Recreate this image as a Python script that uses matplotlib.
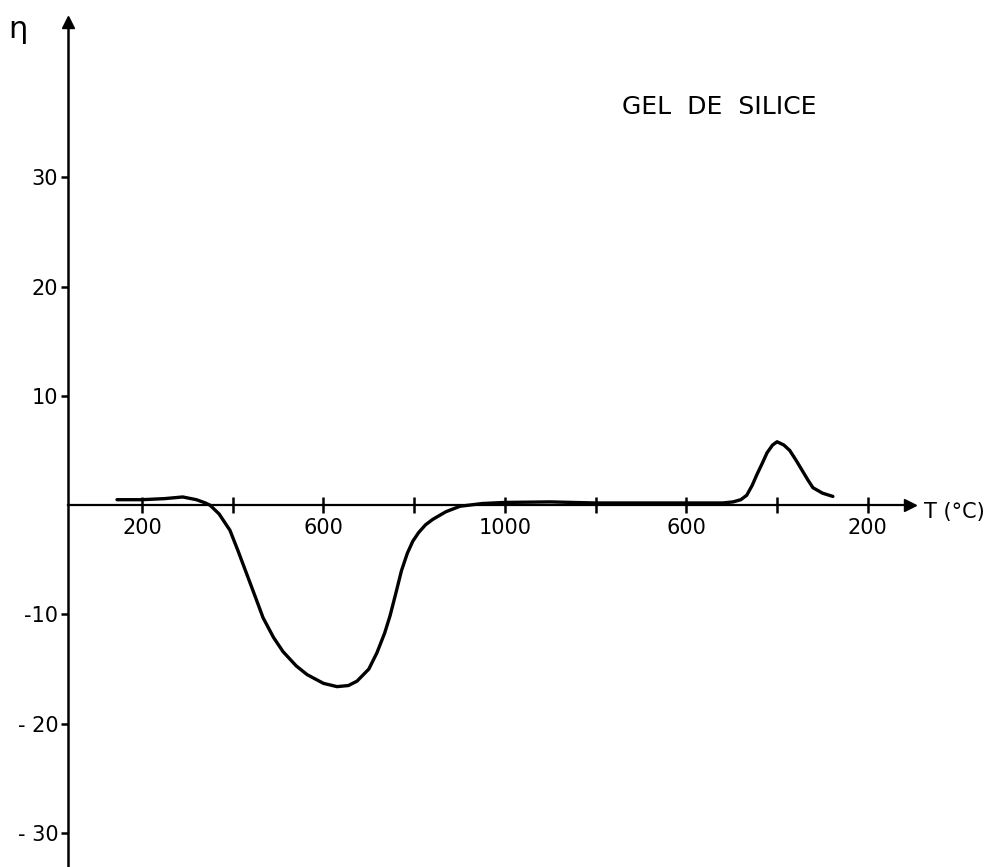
import matplotlib.pyplot as plt

# position along the run: heating 200 -> 1000 degC, then cooling back to 200
s_pos = [145, 200, 250, 290, 320, 340, 350, 370, 394, 412, 431, 450, 467, 490,
         511, 540, 564, 600, 630, 655, 674, 700, 718, 735, 747, 760, 772, 785,
         797, 810, 825, 841, 870, 901, 950, 1000, 1100, 1200, 1300, 1400, 1480,
         1503, 1520, 1533, 1545, 1555, 1567, 1578, 1590, 1600, 1615, 1628, 1642,
         1655, 1668, 1679, 1700, 1723]
eta = [0.5, 0.5, 0.6, 0.75, 0.5, 0.2, 0.0, -0.8, -2.3, -4.2, -6.3, -8.4, -10.3,
       -12.1, -13.4, -14.7, -15.5, -16.3, -16.6, -16.5, -16.1, -15.0, -13.5,
       -11.7, -10.1, -8.0, -6.0, -4.4, -3.3, -2.5, -1.8, -1.3, -0.6, -0.1, 0.15,
       0.25, 0.3, 0.2, 0.2, 0.2, 0.2, 0.3, 0.5, 0.9, 1.8, 2.75, 3.8, 4.8, 5.5,
       5.8, 5.5, 5.0, 4.1, 3.2, 2.3, 1.6, 1.1, 0.8]

x_ticks = [200, 400, 600, 800, 1000, 1200, 1400, 1600, 1800]
x_labels = ["200", "", "600", "", "1000", "", "600", "", "200"]
y_ticks = [-30, -20, -10, 10, 20, 30]
y_labels = ["- 30", "- 20", "-10", "10", "20", "30"]

W, H = 992, 867
fig = plt.figure(figsize=(W / 100, H / 100), dpi=100)
ax = fig.add_axes([68 / W, 0, (910 - 68) / W, (867 - 22) / H])

ax.plot(s_pos, eta, color="black", lw=2.4, solid_capstyle="round",
        solid_joinstyle="round")

ax.set_xlim(37, 1893)
ax.set_ylim(-33.1, 44.2)

for side in ("top", "right"):
    ax.spines[side].set_visible(False)
ax.spines["bottom"].set_position(("data", 0))
ax.spines["left"].set_linewidth(1.8)
ax.spines["bottom"].set_linewidth(1.6)

# arrow heads on the axes
ax.plot(1, 0, ">k", ms=9, transform=ax.get_yaxis_transform(), clip_on=False)
ax.plot(0, 1, "^k", ms=8, transform=ax.transAxes, clip_on=False)

ax.set_xticks(x_ticks)
ax.set_xticklabels(x_labels)
ax.set_yticks(y_ticks)
ax.set_yticklabels(y_labels)
ax.tick_params(axis="x", direction="inout", length=11, width=1.8,
               labelsize=15, pad=4)
ax.tick_params(axis="y", direction="out", length=5, width=1.8,
               labelsize=15, pad=2)

fig.text(18 / W, 1 - 30 / H, "η", fontsize=22, ha="center", va="center")
fig.text(719 / W, 1 - 107 / H, "GEL  DE  SILICE", fontsize=18,
         ha="center", va="center")
fig.text(954 / W, 1 - 512 / H, "T (°C)", fontsize=15, ha="center", va="center")

fig.savefig("out.png", dpi=100)
